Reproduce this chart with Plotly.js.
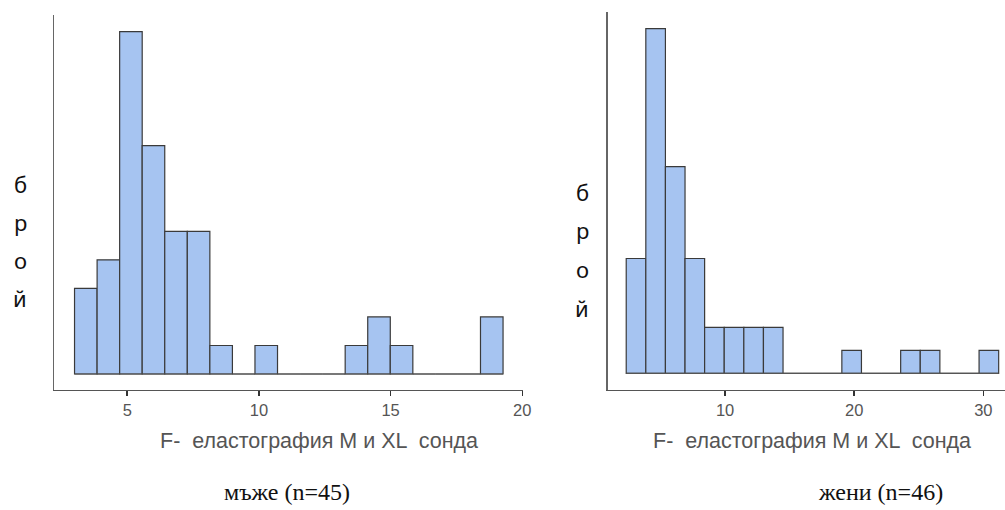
<!DOCTYPE html>
<html>
<head>
<meta charset="utf-8">
<script src="https://cdn.plot.ly/plotly-3.0.1.min.js"></script>
<style>html,body{margin:0;padding:0;background:#fff;}#chart{width:1005px;height:510px;}</style>
</head>
<body>
<div id="chart"></div>
<script>
// ---- data ----
const menCounts   = [3, 4, 12, 8, 5, 5, 1, 0, 1, 0, 0, 0, 1, 2, 1, 0, 0, 0, 2];
const menBinStart = 3.0;
const menBinEnd   = 19.27;
const womenCounts   = [5, 15, 9, 5, 2, 2, 2, 2, 0, 0, 0, 1, 0, 0, 1, 1, 0, 0, 1];
const womenBinStart = 2.34;
const womenBinEnd   = 31.19;
const menTicks   = [5, 10, 15, 20];
const womenTicks = [10, 20, 30];
const xTitle = "F-  еластография M и XL  сонда";
const yTitleLetters = ["б", "р", "о", "й"];
const menCaption = "мъже (n=45)";
const womenCaption = "жени (n=46)";

const barFill = "#a6c4f1";
const barLine = "#3a3a3a";

function histTraces(counts, start, end, xa, ya) {
  const w = (end - start) / counts.length;
  const centers = counts.map((_, i) => start + (i + 0.5) * w);
  return [
    {type: "scatter", mode: "lines", x: [start, end], y: [0, 0], xaxis: xa, yaxis: ya,
     line: {color: "#555", width: 1.2}, hoverinfo: "skip", showlegend: false},
    {type: "bar", x: centers, y: counts, width: counts.map(() => w), xaxis: xa, yaxis: ya,
     marker: {color: barFill, line: {color: barLine, width: 1.2}}, showlegend: false}
  ];
}

const data = [
  ...histTraces(menCounts, menBinStart, menBinEnd, "x", "y"),
  ...histTraces(womenCounts, womenBinStart, womenBinEnd, "x2", "y2")
];

const W = 1005, H = 510;
const xAxisCommon = {
  showline: true, linecolor: "#555", linewidth: 1.2,
  ticks: "outside", ticklen: 5, tickwidth: 1.5, tickcolor: "#333",
  tickfont: {family: "Liberation Sans, Arial, sans-serif", size: 16.5, color: "#555"},
  showgrid: false, zeroline: false, fixedrange: true
};
const yAxisCommon = {
  showline: true, linecolor: "#666", linewidth: 1.2,
  ticks: "", showticklabels: false, showgrid: false, zeroline: false, fixedrange: true
};

const annotations = [];
function addTitle(text, xpx, ypx, font) {
  annotations.push({text: text, xref: "paper", yref: "paper", x: xpx / W, y: 1 - ypx / H,
    xanchor: "center", yanchor: "middle", showarrow: false, font: font});
}
const xtFont = {family: "Liberation Sans, Arial, sans-serif", size: 21.5, color: "#555"};
const ytFont = {family: "Noto Sans, Open Sans, sans-serif", size: 22, color: "#111"};
const capFont = {family: "Liberation Serif, Times New Roman, serif", size: 24, color: "#111"};
addTitle(xTitle, 319, 441, xtFont);
addTitle(xTitle, 812, 441, xtFont);
yTitleLetters.forEach((ch, i) => {
  addTitle(ch, 20, 184 + i * 38, ytFont);
  addTitle(ch, 582, 192 + i * 38.5, ytFont);
});
addTitle(menCaption, 287, 492, capFont);
addTitle(womenCaption, 880, 492, capFont);

const layout = {
  width: W, height: H,
  margin: {l: 0, r: 0, t: 0, b: 0},
  paper_bgcolor: "#fff", plot_bgcolor: "#fff",
  bargap: 0,
  xaxis: Object.assign({}, xAxisCommon, {domain: [54 / W, 522.8 / W], range: [2.22, 20.02],
    tickvals: menTicks, ticktext: menTicks.map(String), anchor: "y"}),
  yaxis: Object.assign({}, yAxisCommon, {domain: [1 - 390 / H, 1 - 15 / H], range: [-0.56, 12.58], anchor: "x"}),
  xaxis2: Object.assign({}, xAxisCommon, {domain: [607.5 / W, 1], range: [0.89, 31.68],
    tickvals: womenTicks, ticktext: womenTicks.map(String), anchor: "y2"}),
  yaxis2: Object.assign({}, yAxisCommon, {domain: [1 - 389.5 / H, 1 - 11.7 / H], range: [-0.7, 15.74], anchor: "x2"}),
  annotations: annotations
};

Plotly.newPlot("chart", data, layout, {displayModeBar: false, staticPlot: true});
</script>
</body>
</html>
